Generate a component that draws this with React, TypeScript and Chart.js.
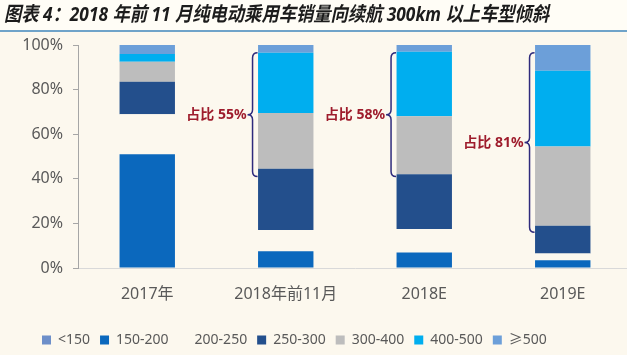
import React, { useEffect, useRef } from 'react';
import { Chart, registerables } from 'chart.js';

Chart.register(...registerables);

// ---------- data ----------
const titleText = '图表 4：2018 年前 11 月纯电动乘用车销量向续航 300km 以上车型倾斜';
const categories = ['2017年', '2018年前11月', '2018E', '2019E'];
const seriesNames = ['<150', '150-200', '200-250', '250-300', '300-400', '400-500', '≥500'];
const lt150 = [0, 0, 0, 0];
const r150to200 = [51, 7.5, 7, 3.5];
const r200to250 = [18, 9.5, 10.5, 3];
const r250to300 = [14.5, 27.5, 24.5, 12.5];
const r300to400 = [9, 25, 26, 35.5];
const r400to500 = [3.5, 27, 29, 34];
const ge500 = [4, 3.5, 3, 11.5];
const yTicks = [0, 20, 40, 60, 80, 100];
const shareLabels = ['', '占比 55%', '占比 58%', '占比 81%'];
const braceTop = [NaN, 96.5, 96.5, 96.5];
const braceBottom = [NaN, 41, 41, 16];

// ---------- styles ----------
const BG = '#fcf8ee';
const TITLE_BG = '#fffdf6';
const seriesColors = ['#6d8fc9', '#0b68bd', BG, '#234f8c', '#bdbdbd', '#00aeef', '#6c9fd9'];
const seriesData = [lt150, r150to200, r200to250, r250to300, r300to400, r400to500, ge500];

const decorPlugin = {
  id: 'decor',
  afterLayout(chart: any) {
    const lg = chart.legend;
    if (lg) {
      const w = lg.right - lg.left;
      lg.left = 32;
      lg.right = 32 + w;
      lg.top += 2;
      lg.bottom += 2;
    }
  },
  beforeDraw(chart: any) {
    const ctx = chart.ctx;
    ctx.save();
    ctx.fillStyle = BG;
    ctx.fillRect(0, 0, chart.width, chart.height);
    ctx.fillStyle = TITLE_BG;
    ctx.fillRect(0, 0, chart.width, 30);
    ctx.fillStyle = '#6fa3c9';
    ctx.fillRect(0, 30, chart.width, 2);
    ctx.fillStyle = '#1c1c1c';
    ctx.font = 'italic bold 20px "Noto Sans", "Noto Sans CJK SC", sans-serif';
    ctx.textBaseline = 'middle';
    ctx.textAlign = 'left';
    const m = ctx.measureText(titleText).width;
    const target = 545;
    ctx.translate(4, 15);
    ctx.scale(target / m, 1);
    ctx.fillText(titleText, 0, 0);
    ctx.restore();
  },
  afterDatasetsDraw(chart: any) {
    const ctx = chart.ctx;
    const yScale = chart.scales.y;
    const meta = chart.getDatasetMeta(1);
    ctx.save();
    for (let i = 0; i < categories.length; i++) {
      if (!shareLabels[i]) continue;
      const bar: any = meta.data[i];
      const barLeft = bar.x - bar.width / 2;
      const x = barLeft - 5.5;
      const w = 5;
      const yT = yScale.getPixelForValue(braceTop[i]);
      const yB = yScale.getPixelForValue(braceBottom[i]);
      const tipY = (yT + yB) / 2;
      ctx.strokeStyle = '#2f2b7c';
      ctx.lineWidth = 1.5;
      ctx.beginPath();
      ctx.moveTo(x + w, yT);
      ctx.quadraticCurveTo(x, yT, x, yT + w);
      ctx.lineTo(x, tipY - w);
      ctx.quadraticCurveTo(x, tipY, x - w, tipY);
      ctx.quadraticCurveTo(x, tipY, x, tipY + w);
      ctx.lineTo(x, yB - w);
      ctx.quadraticCurveTo(x, yB, x + w, yB);
      ctx.stroke();
      ctx.fillStyle = '#9e1c2c';
      ctx.font = 'bold 14px "Noto Sans", "Noto Sans CJK SC", sans-serif';
      ctx.textAlign = 'right';
      ctx.textBaseline = 'middle';
      ctx.fillText(shareLabels[i], x - w - 1, tipY);
    }
    ctx.restore();
  },
};

export default function App() {
  const ref = useRef<HTMLCanvasElement | null>(null);
  useEffect(() => {
    if (!ref.current) return;
    const chart = new Chart(ref.current, {
      type: 'bar',
      data: {
        labels: categories,
        datasets: seriesNames.map((name, k) => ({
          label: name,
          data: seriesData[k],
          backgroundColor: seriesColors[k],
          borderWidth: 0,
          barPercentage: 0.4,
          categoryPercentage: 1,
        })),
      },
      options: {
        responsive: false,
        animation: false,
        devicePixelRatio: 1,
        layout: { padding: { top: 45, left: 10, right: 0, bottom: 0 } },
        plugins: {
          title: { display: false },
          tooltip: { enabled: false },
          legend: {
            position: 'bottom',
            align: 'start',
            labels: {
              boxWidth: 9,
              boxHeight: 9,
              padding: 10,
              color: '#595959',
              font: { size: 14, family: '"Noto Sans", "Noto Sans CJK SC", sans-serif' },
            },
          },
        },
        scales: {
          x: {
            stacked: true,
            grid: { display: false, drawTicks: false },
            border: { color: '#d9d9d9', width: 1 },
            ticks: {
              color: '#595959',
              padding: 17,
              font: { size: 16, family: '"Noto Sans", "Noto Sans CJK SC", sans-serif' },
            },
            afterFit(scale: any) {
              scale.height = 53;
            },
          },
          y: {
            stacked: true,
            min: 0,
            max: 100,
            afterBuildTicks(scale: any) {
              scale.ticks = yTicks.map((v) => ({ value: v }));
            },
            grid: { drawOnChartArea: false, drawTicks: true, tickLength: 5, color: '#a6a6a6' },
            border: { color: '#a6a6a6', width: 1 },
            ticks: {
              color: '#595959',
              padding: 10,
              font: { size: 16, family: '"Noto Sans", "Noto Sans CJK SC", sans-serif' },
              callback: (v: any) => v + '%',
            },
            afterFit(scale: any) {
              scale.width = 68;
            },
          },
        },
      },
      plugins: [decorPlugin],
    });
    return () => chart.destroy();
  }, []);
  return (
    <div style={{ position: 'fixed', left: 0, top: 0, width: 627, height: 355, overflow: 'hidden', background: BG }}>
      <canvas ref={ref} width={632} height={355} style={{ width: 632, height: 355, display: 'block' }} />
    </div>
  );
}
